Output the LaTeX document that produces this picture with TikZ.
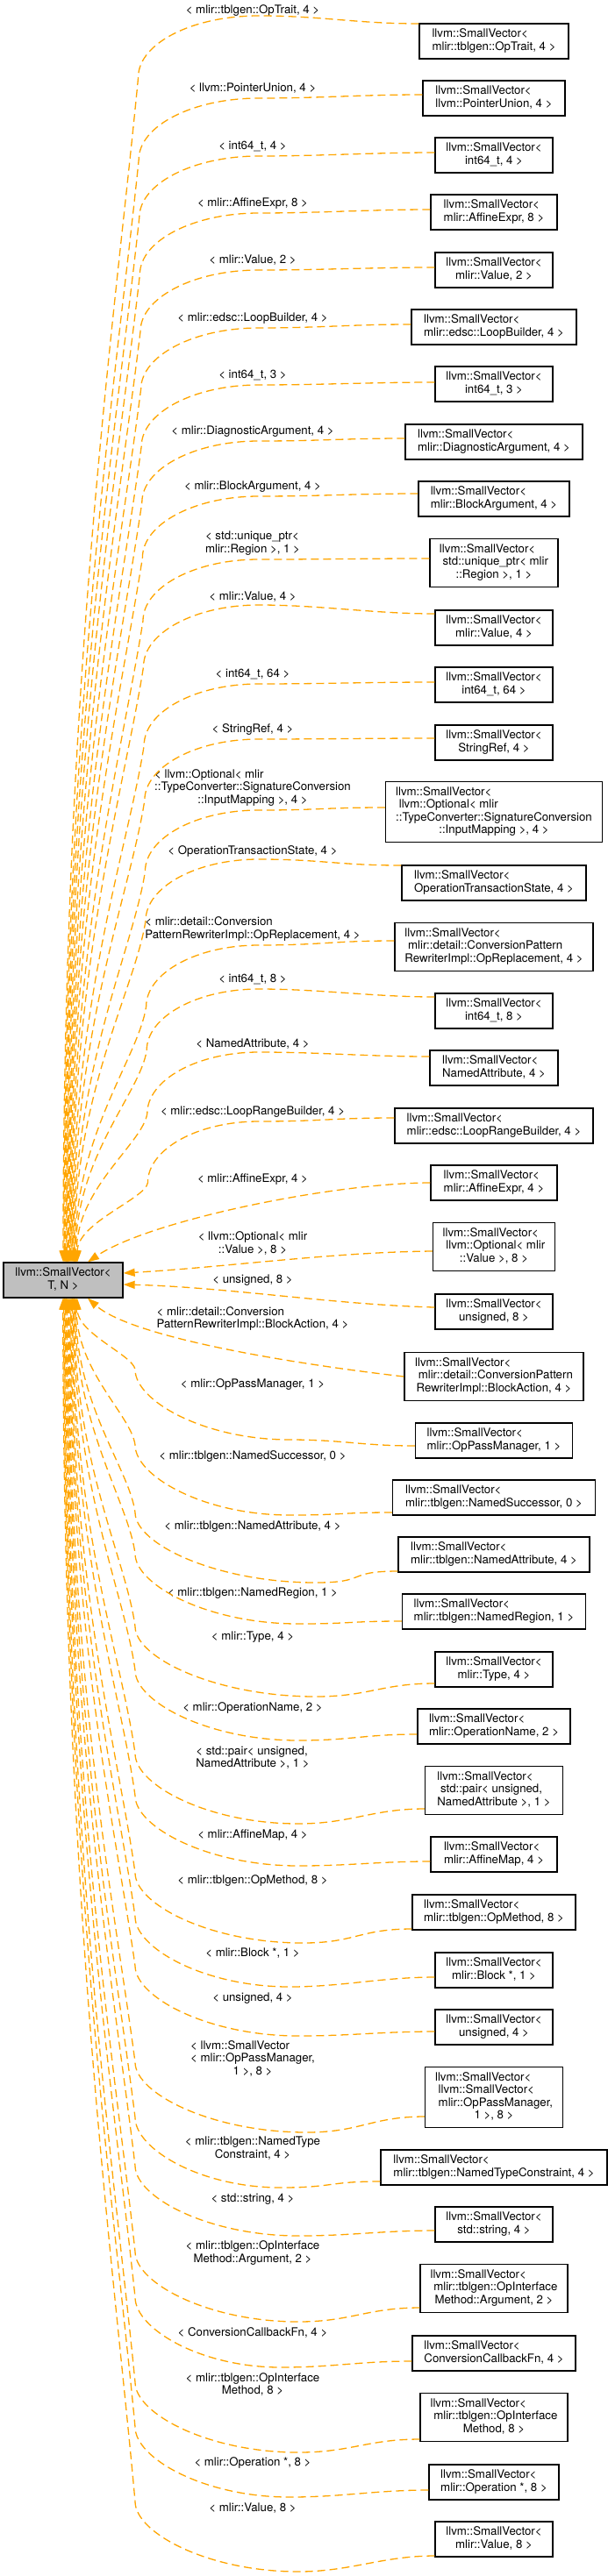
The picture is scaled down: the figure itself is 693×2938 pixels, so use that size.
\documentclass[tikz,border=0pt]{standalone}
\usepackage{fontspec}
\setmainfont{TeX Gyre Heros}
\usetikzlibrary{arrows.meta}
\definecolor{edgeor}{HTML}{FFA500}
\definecolor{maingray}{HTML}{BFBFBF}
\newcommand{\fs}{\fontsize{13.25pt}{14.5pt}\selectfont}
\newcommand{\ml}[2]{\begin{tabular}{@{}l@{}}#1\\\multicolumn{1}{@{}c@{}}{#2}\end{tabular}}
\newcommand{\topedge}[5]{%
  \path (0,#2) coordinate (sy) (#5,0) coordinate (ex);
  \pgfmathsetmacro{\myyt}{#3+70}%
  \pgfmathsetmacro{\myL}{1440-\myyt}%
  \pgfmathsetmacro{\myca}{#4-0.3*(#4-#5)*min(1,\myL/800)}%
  \pgfmathsetmacro{\mycb}{\myyt+0.2*\myL}%
  \pgfmathsetmacro{\mycc}{\myyt+0.5*\myL}%
  \pgfmathsetmacro{\myta}{295-0.55*(295-#4)}%
  \pgfmathsetmacro{\mytb}{#3+31.5}%
  \draw[edge] (c#1.west |- sy) .. controls +(-70,0) and +(70,0) .. (295,#3)
    .. controls (\myta,#3) and (#4,\mytb) .. (#4,\myyt)
    .. controls (\myca,\mycb) and (#5,\mycc) .. (main.north -| ex);
}
\newcommand{\botedge}[6]{%
  \path (0,#2) coordinate (sy) (#6,0) coordinate (ex);
  \pgfmathsetmacro{\myyt}{#3-80}%
  \pgfmathsetmacro{\myL}{\myyt-1480}%
  \pgfmathsetmacro{\myca}{#5-0.3*(#5-#6)*min(1,\myL/800)}%
  \pgfmathsetmacro{\mycb}{\myyt-0.2*\myL}%
  \pgfmathsetmacro{\mycc}{\myyt-0.5*\myL}%
  \pgfmathsetmacro{\myta}{#4-0.55*(#4-#5)}%
  \pgfmathsetmacro{\mytb}{#3-44}%
  \draw[edge] (c#1.west |- sy) .. controls +(-60,0) and +(60,0) .. (#4,#3)
    .. controls (\myta,#3) and (#5,\mytb) .. (#5,\myyt)
    .. controls (\myca,\mycb) and (#6,\mycc) .. (main.south -| ex);
}
\begin{document}
\begin{tikzpicture}[x=1pt,y=-1pt,
  box/.style={draw=black, line width=1.3pt, fill=white, inner xsep=8pt, inner ysep=5.5pt, font=\fs},
  lab/.style={inner sep=0pt, font=\fs},
  edge/.style={draw=edgeor, line width=1.3pt, dash pattern=on 9pt off 5pt, -{Triangle[length=13pt,width=9pt]}}]
\useasboundingbox (0,0) rectangle (693,2938);
% main node
\node[box, fill=maingray, minimum width=136pt] (main) at (72,1460) {\ml{llvm::SmallVector<}{T, N >}};
% child nodes
\node[box, minimum width=170pt] (c1) at (563,47) {\ml{llvm::SmallVector<}{mlir::tblgen::OpTrait, 4 >}};
\node[box, minimum width=162pt] (c2) at (563,112) {\ml{llvm::SmallVector<}{llvm::PointerUnion, 4 >}};
\node[box, minimum width=134pt] (c3) at (563,177) {\ml{llvm::SmallVector<}{int64\_t, 4 >}};
\node[box, minimum width=144pt] (c4) at (563,242) {\ml{llvm::SmallVector<}{mlir::AffineExpr, 8 >}};
\node[box, minimum width=134pt] (c5) at (563,308) {\ml{llvm::SmallVector<}{mlir::Value, 2 >}};
\node[box, minimum width=188pt] (c6) at (563,373) {\ml{llvm::SmallVector<}{mlir::edsc::LoopBuilder, 4 >}};
\node[box, minimum width=134pt] (c7) at (563,438) {\ml{llvm::SmallVector<}{int64\_t, 3 >}};
\node[box, minimum width=202pt] (c8) at (563,504) {\ml{llvm::SmallVector<}{mlir::DiagnosticArgument, 4 >}};
\node[box, minimum width=172pt] (c9) at (563,569) {\ml{llvm::SmallVector<}{mlir::BlockArgument, 4 >}};
\node[box, minimum width=146pt] (c10) at (563,642) {\ml{llvm::SmallVector<\\\ std::unique\_ptr< mlir}{::Region >, 1 >}};
\node[box, minimum width=134pt] (c11) at (563,716) {\ml{llvm::SmallVector<}{mlir::Value, 4 >}};
\node[box, minimum width=134pt] (c12) at (563,781) {\ml{llvm::SmallVector<}{int64\_t, 64 >}};
\node[box, minimum width=134pt] (c13) at (563,847) {\ml{llvm::SmallVector<}{StringRef, 4 >}};
\node[box, minimum width=247pt] (c14) at (563,926) {\ml{llvm::SmallVector<\\\ llvm::Optional< mlir\\::TypeConverter::SignatureConversion}{::InputMapping >, 4 >}};
\node[box, minimum width=210pt] (c15) at (563,1007) {\ml{llvm::SmallVector<}{OperationTransactionState, 4 >}};
\node[box, minimum width=226pt] (c16) at (563,1080) {\ml{llvm::SmallVector<\\\ mlir::detail::ConversionPattern}{RewriterImpl::OpReplacement, 4 >}};
\node[box, minimum width=134pt] (c17) at (563,1153) {\ml{llvm::SmallVector<}{int64\_t, 8 >}};
\node[box, minimum width=146pt] (c18) at (563,1218) {\ml{llvm::SmallVector<}{NamedAttribute, 4 >}};
\node[box, minimum width=226pt] (c19) at (563,1284) {\ml{llvm::SmallVector<}{mlir::edsc::LoopRangeBuilder, 4 >}};
\node[box, minimum width=144pt] (c20) at (563,1349) {\ml{llvm::SmallVector<}{mlir::AffineExpr, 4 >}};
\node[box, minimum width=139pt] (c21) at (563,1422) {\ml{llvm::SmallVector<\\\ llvm::Optional< mlir}{::Value >, 8 >}};
\node[box, minimum width=134pt] (c22) at (563,1496) {\ml{llvm::SmallVector<}{unsigned, 8 >}};
\node[box, minimum width=204pt] (c23) at (563,1570) {\ml{llvm::SmallVector<\\\ mlir::detail::ConversionPattern}{RewriterImpl::BlockAction, 4 >}};
\node[box, minimum width=179pt] (c24) at (563,1643) {\ml{llvm::SmallVector<}{mlir::OpPassManager, 1 >}};
\node[box, minimum width=231pt] (c25) at (563,1708) {\ml{llvm::SmallVector<}{mlir::tblgen::NamedSuccessor, 0 >}};
\node[box, minimum width=218pt] (c26) at (563,1773) {\ml{llvm::SmallVector<}{mlir::tblgen::NamedAttribute, 4 >}};
\node[box, minimum width=209pt] (c27) at (563,1838) {\ml{llvm::SmallVector<}{mlir::tblgen::NamedRegion, 1 >}};
\node[box, minimum width=134pt] (c28) at (563,1904) {\ml{llvm::SmallVector<}{mlir::Type, 4 >}};
\node[box, minimum width=174pt] (c29) at (563,1969) {\ml{llvm::SmallVector<}{mlir::OperationName, 2 >}};
\node[box, minimum width=157pt] (c30) at (563,2042) {\ml{llvm::SmallVector<\\\ std::pair< unsigned,}{NamedAttribute >, 1 >}};
\node[box, minimum width=144pt] (c31) at (563,2115) {\ml{llvm::SmallVector<}{mlir::AffineMap, 4 >}};
\node[box, minimum width=186pt] (c32) at (563,2181) {\ml{llvm::SmallVector<}{mlir::tblgen::OpMethod, 8 >}};
\node[box, minimum width=134pt] (c33) at (563,2247) {\ml{llvm::SmallVector<}{mlir::Block *, 1 >}};
\node[box, minimum width=134pt] (c34) at (563,2312) {\ml{llvm::SmallVector<}{unsigned, 4 >}};
\node[box, minimum width=157pt] (c35) at (563,2392) {\ml{llvm::SmallVector<\\\ llvm::SmallVector<\\\ mlir::OpPassManager,}{1 >, 8 >}};
\node[box, minimum width=258pt] (c36) at (563,2472) {\ml{llvm::SmallVector<}{mlir::tblgen::NamedTypeConstraint, 4 >}};
\node[box, minimum width=134pt] (c37) at (563,2537) {\ml{llvm::SmallVector<}{std::string, 4 >}};
\node[box, minimum width=168pt] (c38) at (563,2610) {\ml{llvm::SmallVector<\\\ mlir::tblgen::OpInterface}{Method::Argument, 2 >}};
\node[box, minimum width=186pt] (c39) at (563,2684) {\ml{llvm::SmallVector<}{ConversionCallbackFn, 4 >}};
\node[box, minimum width=168pt] (c40) at (563,2757) {\ml{llvm::SmallVector<\\\ mlir::tblgen::OpInterface}{Method, 8 >}};
\node[box, minimum width=148pt] (c41) at (563,2831) {\ml{llvm::SmallVector<}{mlir::Operation *, 8 >}};
\node[box, minimum width=134pt] (c42) at (563,2896) {\ml{llvm::SmallVector<}{mlir::Value, 8 >}};
% edge labels
\node[lab] (l1) at (288,12) {< mlir::tblgen::OpTrait, 4 >};
\node[lab] (l2) at (288,101) {< llvm::PointerUnion, 4 >};
\node[lab] (l3) at (288,167) {< int64\_t, 4 >};
\node[lab] (l4) at (288,232) {< mlir::AffineExpr, 8 >};
\node[lab] (l5) at (288,297) {< mlir::Value, 2 >};
\node[lab] (l6) at (288,363) {< mlir::edsc::LoopBuilder, 4 >};
\node[lab] (l7) at (288,428) {< int64\_t, 3 >};
\node[lab] (l8) at (288,492) {< mlir::DiagnosticArgument, 4 >};
\node[lab] (l9) at (288,555) {< mlir::BlockArgument, 4 >};
\node[lab] (l10) at (288,620) {\ml{< std::unique\_ptr<}{mlir::Region >, 1 >}};
\node[lab] (l11) at (288,681) {< mlir::Value, 4 >};
\node[lab] (l12) at (288,769) {< int64\_t, 64 >};
\node[lab] (l13) at (288,832) {< StringRef, 4 >};
\node[lab] (l14) at (288,899) {\ml{< llvm::Optional< mlir\\::TypeConverter::SignatureConversion}{::InputMapping >, 4 >}};
\node[lab] (l15) at (288,971) {< OperationTransactionState, 4 >};
\node[lab] (l16) at (288,1060) {\ml{< mlir::detail::Conversion}{PatternRewriterImpl::OpReplacement, 4 >}};
\node[lab] (l17) at (288,1117) {< int64\_t, 8 >};
\node[lab] (l18) at (288,1191) {< NamedAttribute, 4 >};
\node[lab] (l19) at (288,1268) {< mlir::edsc::LoopRangeBuilder, 4 >};
\node[lab] (l20) at (288,1345) {< mlir::AffineExpr, 4 >};
\node[lab] (l21) at (288,1419) {\ml{< llvm::Optional< mlir}{::Value >, 8 >}};
\node[lab] (l22) at (288,1460) {< unsigned, 8 >};
\node[lab] (l23) at (288,1504.5) {\ml{< mlir::detail::Conversion}{PatternRewriterImpl::BlockAction, 4 >}};
\node[lab] (l24) at (288,1579) {< mlir::OpPassManager, 1 >};
\node[lab] (l25) at (288,1661) {< mlir::tblgen::NamedSuccessor, 0 >};
\node[lab] (l26) at (288,1741) {< mlir::tblgen::NamedAttribute, 4 >};
\node[lab] (l27) at (288,1817) {< mlir::tblgen::NamedRegion, 1 >};
\node[lab] (l28) at (288,1867) {< mlir::Type, 4 >};
\node[lab] (l29) at (288,1948) {< mlir::OperationName, 2 >};
\node[lab] (l30) at (288,2005.5) {\ml{< std::pair< unsigned,}{NamedAttribute >, 1 >}};
\node[lab] (l31) at (288,2093) {< mlir::AffineMap, 4 >};
\node[lab] (l32) at (288,2145) {< mlir::tblgen::OpMethod, 8 >};
\node[lab] (l33) at (288,2228) {< mlir::Block *, 1 >};
\node[lab] (l34) at (288,2279) {< unsigned, 4 >};
\node[lab] (l35) at (288,2349) {\ml{< llvm::SmallVector\\< mlir::OpPassManager,}{1 >, 8 >}};
\node[lab] (l36) at (288,2451) {\ml{< mlir::tblgen::NamedType}{Constraint, 4 >}};
\node[lab] (l37) at (288,2508) {< std::string, 4 >};
\node[lab] (l38) at (288,2570) {\ml{< mlir::tblgen::OpInterface}{Method::Argument, 2 >}};
\node[lab] (l39) at (288,2660) {< ConversionCallbackFn, 4 >};
\node[lab] (l40) at (288,2720.5) {\ml{< mlir::tblgen::OpInterface}{Method, 8 >}};
\node[lab] (l41) at (288,2809) {< mlir::Operation *, 8 >};
\node[lab] (l42) at (288,2861) {< mlir::Value, 8 >};
% edges to the top of the main node
\topedge{1}{27}{18}{157.6}{72}
\topedge{2}{108}{112}{158.2}{72.9}
\topedge{3}{174}{178}{158.8}{73.8}
\topedge{4}{239}{243}{159.4}{74.7}
\topedge{5}{305}{308}{160}{75.6}
\topedge{6}{370}{374}{160.6}{76.5}
\topedge{7}{436}{439}{161.2}{77.4}
\topedge{8}{500}{503}{161.8}{78.3}
\topedge{9}{563}{566}{162.4}{79.2}
\topedge{10}{637}{638}{163}{80.1}
\topedge{11}{700}{690}{163.6}{81}
\topedge{12}{778}{780}{164.2}{81.9}
\topedge{13}{842}{843}{164.8}{82.8}
\topedge{14}{921}{924}{165.4}{83.7}
\topedge{15}{987}{980}{166}{84.6}
\topedge{16}{1073}{1078}{166.6}{85.5}
\topedge{17}{1137}{1128}{167.2}{86.4}
\topedge{18}{1205}{1200}{167.8}{87.3}
\topedge{19}{1275}{1279}{168.4}{88.2}
% edges near the main node
\path (100,0) coordinate (e20) (100,0) coordinate (e23);
\draw[edge] (c20.west) .. controls (380,1349) and (170,1392) .. (main.north -| e20);
\draw[edge] ([yshift=-5pt]c21.west) .. controls (380,1428) and (260,1445) .. ([yshift=8pt]main.east);
\draw[edge] ([yshift=5pt]c22.west) .. controls (380,1488) and (260,1468) .. ([yshift=-5pt]main.east);
\draw[edge] (c23.west) .. controls (330,1555) and (150,1525) .. (main.south -| e23);
% edges to the bottom of the main node
\botedge{24}{1649}{1642}{330}{154}{88}
\botedge{25}{1725}{1728}{330}{154}{87.1}
\botedge{26}{1792}{1805}{360}{154}{86.2}
\botedge{27}{1849}{1852}{340}{154}{85.3}
\botedge{28}{1920}{1935}{360}{154}{84.4}
\botedge{29}{1978}{1985}{340}{154}{83.5}
\botedge{30}{2063}{2080}{340}{154}{82.6}
\botedge{31}{2123}{2128}{340}{154}{81.7}
\botedge{32}{2200}{2216}{345}{154}{80.8}
\botedge{33}{2255}{2266}{330}{154}{79.9}
\botedge{34}{2317}{2322}{340}{154}{79}
\botedge{35}{2414}{2432}{350}{154}{78.1}
\botedge{36}{2488}{2495}{320}{154}{77.2}
\botedge{37}{2544}{2550}{340}{154}{76.3}
\botedge{38}{2632}{2648}{340}{154}{75.4}
\botedge{39}{2693}{2700}{320}{154}{74.5}
\botedge{40}{2782}{2797}{340}{154}{73.6}
\botedge{41}{2840}{2848}{330}{154}{72.7}
\botedge{42}{2915}{2933}{340}{154}{71.8}
\end{tikzpicture}
\end{document}
